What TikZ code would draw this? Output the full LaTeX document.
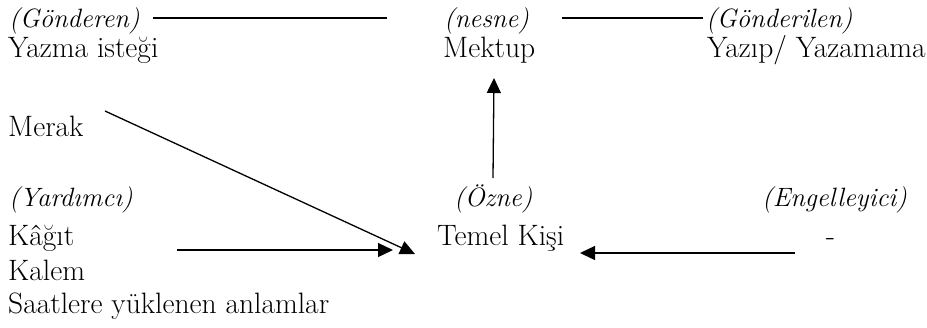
\documentclass[tikz,border=0pt]{standalone}
\usetikzlibrary{arrows.meta}
\begin{document}
\begin{tikzpicture}[x=1pt,y=-1pt,
  lbl/.style={inner sep=0pt, anchor=base west, font=\fontsize{29.5}{34}\selectfont},
  role/.style={lbl, font=\fontsize{26.5}{31}\selectfont\itshape},
  ln/.style={line width=1.3pt},
  arr/.style={line width=1.3pt, -{Triangle[length=15pt,width=14pt]}}]
\useasboundingbox (0,0) rectangle (927,327);
% top row
\node[role] (gond) at (9,27) {(Gönderen)};
\node[lbl] (yazma) at (8,57) {Yazma isteği};
\node[role] (nesne) at (444,27) {(nesne)};
\node[lbl] (mektup) at (443,57) {Mektup};
\node[role] (gonderilen) at (706,27) {(Gönderilen)};
\node[lbl] (yazip) at (707,57) {Yazıp/ Yazamama};
% left column
\node[lbl] (merak) at (8,136) {Merak};
\node[role] (yardimci) at (9,206) {(Yardımcı)};
\node[lbl] (kagit) at (8,245) {Kâğıt};
\node[lbl] (kalem) at (8,280) {Kalem};
\node[lbl] (saat) at (8,313) {Saatlere yüklenen anlamlar};
% middle / right
\node[role] (ozne) at (454,206) {(Özne)};
\node[lbl] (temel) at (437,245) {Temel Kişi};
\node[role] (engel) at (762,206) {(Engelleyici)};
\node[lbl] (dash) at (826,245) {-};
% connector ends
\coordinate (gondR) at (153,18);
\coordinate (nesneL) at (387,18);
\coordinate (nesneR) at (562,18);
\coordinate (gonderilenL) at (703,18);
\coordinate (temelT) at (493,178);
\coordinate (mektupB) at (494,78);
\coordinate (merakR) at (105,111);
\coordinate (temelA) at (415,254);
\coordinate (kagitR) at (177,250);
\coordinate (temelB) at (393,250);
\coordinate (dashL) at (795,253);
\coordinate (temelR) at (580,253);
% connectors
\draw[ln] (gondR) -- (nesneL);
\draw[ln] (nesneR) -- (gonderilenL);
\draw[arr] (temelT) -- (mektupB);
\draw[arr] (merakR) -- (temelA);
\draw[arr] (kagitR) -- (temelB);
\draw[arr] (dashL) -- (temelR);
\end{tikzpicture}
\end{document}
